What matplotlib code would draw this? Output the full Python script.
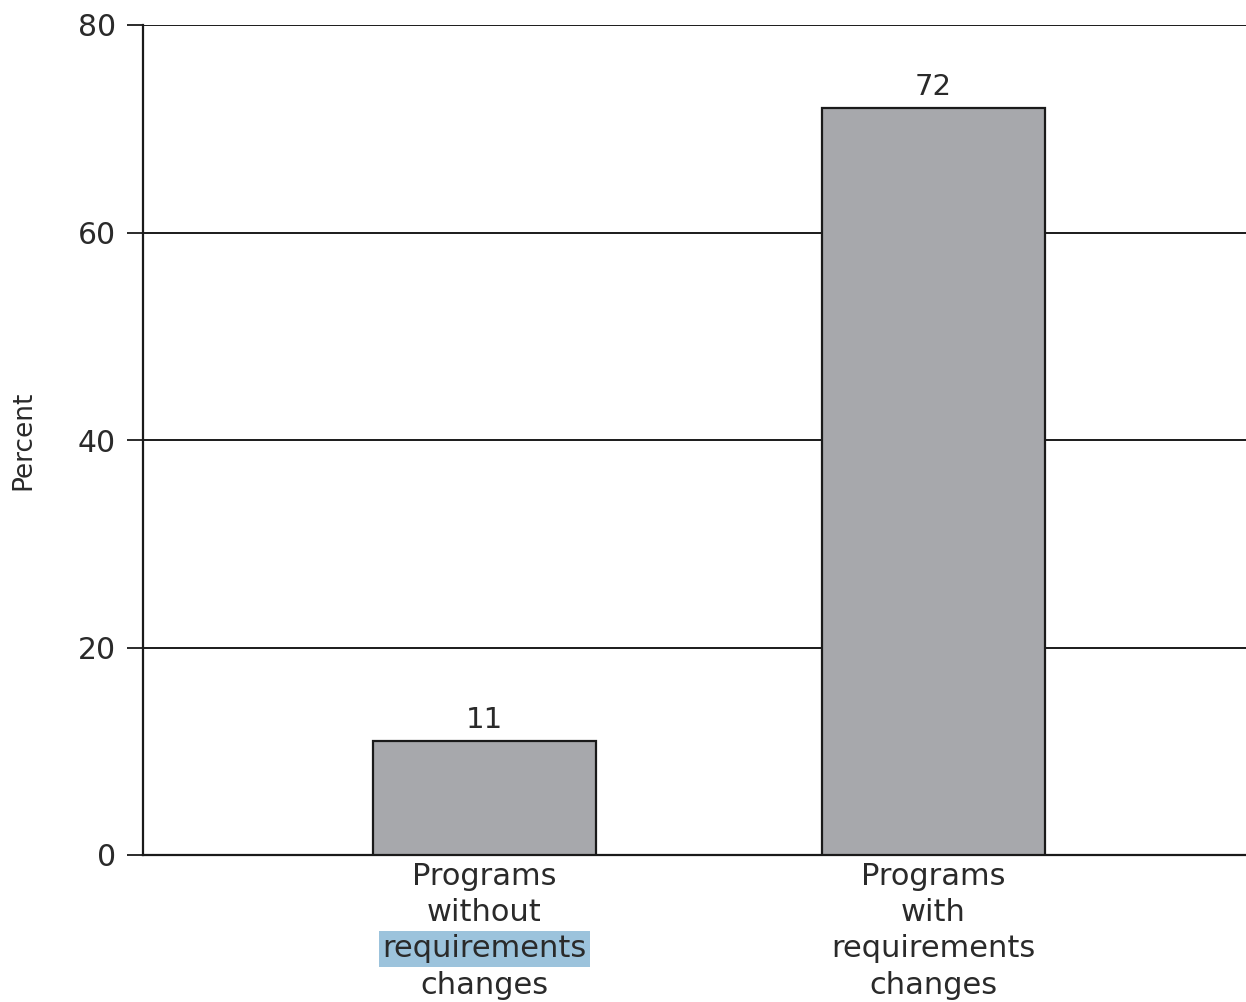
import matplotlib
matplotlib.use("Agg")
import matplotlib.pyplot as plt

categories = [["Programs", "without", "requirements", "changes"],
              ["Programs", "with", "requirements", "changes"]]
values = [11, 72]
yticks = [0, 20, 40, 60, 80]
ylabel = "Percent"

plt.rcParams['font.family'] = ['DejaVu Sans']
txt = '#2a2a2a'

fig = plt.figure(figsize=(12.46, 10.02), dpi=100)
ax = fig.add_axes([143/1246, 1 - 855/1002, 1 - 143/1246, (855-25)/1002])

x = list(range(len(values)))
ax.bar(x, values, width=0.497, color='#a7a8ac', edgecolor='#1a1a1a', linewidth=1.6, zorder=3)
for xi, v in zip(x, values):
    ax.annotate(str(v), xy=(xi, v), xytext=(0, 15), textcoords='offset points',
                ha='center', va='center', fontsize=21, color=txt)

ax.set_xlim(-0.7606, 1.696)
ax.set_ylim(0, 80)
ax.set_yticks(yticks)
ax.set_yticklabels([str(t) for t in yticks], fontsize=21.5, color=txt)
ax.tick_params(axis='y', length=11.5, width=1.3, color='#1a1a1a', pad=8)
ax.set_xticks([])
for yv in yticks[1:]:
    ax.axhline(yv, color='#1a1a1a', linewidth=1.4, zorder=1)
for s in ['right', 'top']:
    ax.spines[s].set_visible(False)
ax.spines['left'].set_linewidth(1.6)
ax.spines['bottom'].set_linewidth(1.6)
ax.spines['left'].set_color('#1a1a1a')
ax.spines['bottom'].set_color('#1a1a1a')

ax.set_ylabel(ylabel, fontsize=19, color=txt, labelpad=30)

offsets = [15.8, 41.5, 67.5, 94]
for i, lines in enumerate(categories):
    for j, line in enumerate(lines):
        kw = {}
        if i == 0 and line == "requirements":
            kw['bbox'] = dict(boxstyle='square,pad=0.12', fc='#9cc3dc', ec='none')
        ax.annotate(line, xy=(x[i], 0), xytext=(0, -offsets[j]), textcoords='offset points',
                    ha='center', va='center', fontsize=22, color=txt,
                    annotation_clip=False, **kw)

fig.savefig('out.png', dpi=100)
